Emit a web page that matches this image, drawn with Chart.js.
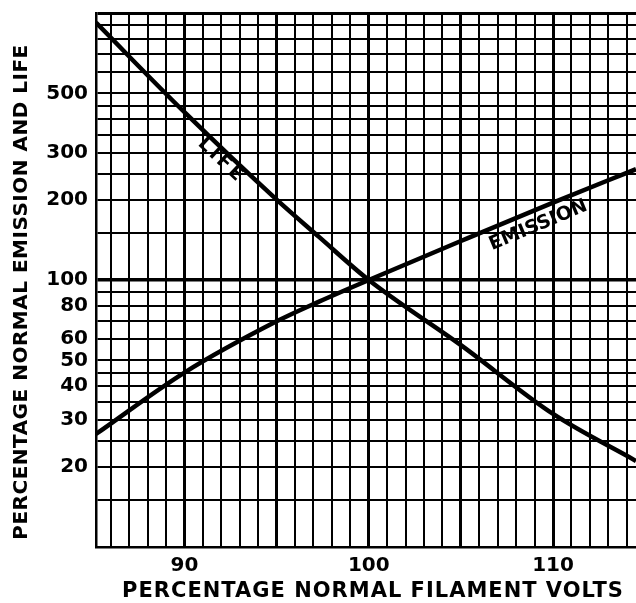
<!DOCTYPE html>
<html>
<head>
<meta charset="utf-8">
<script src="https://cdn.jsdelivr.net/npm/chart.js@4"></script>
<style>
  html, body { margin: 0; padding: 0; background: #fff; }
  #wrap { width: 636px; height: 603px; }
</style>
</head>
<body>
<div id="wrap"><canvas id="tubeChart" width="636" height="603"></canvas></div>
<script>
// filament volts (percent of normal) where the curves were read
const volts = [85.2, 90, 95, 97.3, 100, 105, 110, 114.5];
const lifeValues = [920, 425, 200, 145, 100, 57, 31.5, 21];
const emissionValues = [26.5, 45, 70, 83, 100, 140, 195, 260];

// ruling of the graph paper
const gridVolts = [86, 87, 88, 89, 90, 91, 92, 93, 94, 95, 96, 97, 98, 99, 100,
  101, 102, 103, 104, 105, 106, 107, 108, 109, 110, 111, 112, 113, 114];
const gridLevels = [15, 20, 25, 30, 35, 40, 45, 50, 60, 70, 80, 90, 100,
  150, 200, 250, 300, 350, 400, 450, 500, 600, 700, 800, 900, 1000];
const voltLabels = [90, 100, 110];
const levelLabels = [20, 30, 40, 50, 60, 80, 100, 200, 300, 500];

const FONT = '"DejaVu Sans", sans-serif';

const toPoints = (xs, ys) => xs.map((x, i) => ({ x: x, y: ys[i] }));

// axis titles and the lettering along the curves
const lettering = {
  id: 'lettering',
  afterDraw(chart) {
    const ctx = chart.ctx;
    const xs = chart.scales.x, ys = chart.scales.y;
    ctx.save();
    ctx.fillStyle = '#000';
    ctx.textAlign = 'center';
    ctx.textBaseline = 'middle';

    ctx.font = 'bold 21px ' + FONT;
    ctx.letterSpacing = '1px';
    ctx.fillText('PERCENTAGE NORMAL FILAMENT VOLTS', 373, 592);

    ctx.save();
    ctx.translate(22, 292);
    ctx.rotate(-Math.PI / 2);
    ctx.font = 'bold 20px ' + FONT;
    ctx.letterSpacing = '0.5px';
    ctx.fillText('PERCENTAGE NORMAL EMISSION AND LIFE', 0, 0);
    ctx.restore();

    const slope = (vals, i, j) => Math.atan2(
      ys.getPixelForValue(vals[j]) - ys.getPixelForValue(vals[i]),
      xs.getPixelForValue(volts[j]) - xs.getPixelForValue(volts[i]));

    ctx.save();
    ctx.font = 'bold 19px ' + FONT;
    ctx.letterSpacing = '3px';
    ctx.translate(xs.getPixelForValue(92), ys.getPixelForValue(280));
    ctx.rotate(slope(lifeValues, 1, 2));
    ctx.fillText('LIFE', 0, 0);
    ctx.restore();

    ctx.save();
    ctx.font = 'bold 19px ' + FONT;
    ctx.letterSpacing = '0px';
    ctx.translate(xs.getPixelForValue(109.2), ys.getPixelForValue(160));
    ctx.rotate(slope(emissionValues, 5, 6));
    ctx.fillText('EMISSION', 0, 0);
    ctx.restore();

    ctx.restore();
  }
};

new Chart(document.getElementById('tubeChart'), {
  type: 'scatter',
  data: {
    datasets: [
      { label: 'LIFE', data: toPoints(volts, lifeValues) },
      { label: 'EMISSION', data: toPoints(volts, emissionValues) }
    ]
  },
  options: {
    responsive: false,
    animation: false,
    showLine: true,
    layout: { padding: { top: 13, right: 0, bottom: 0, left: 0 } },
    elements: {
      point: { radius: 0, hoverRadius: 0 },
      line: { borderColor: '#000', borderWidth: 4.5, cubicInterpolationMode: 'monotone', fill: false }
    },
    plugins: {
      legend: { display: false },
      tooltip: { enabled: false }
    },
    scales: {
      x: {
        type: 'linear',
        min: 85.2,
        max: 114.5,
        afterBuildTicks: s => { s.ticks = gridVolts.map(v => ({ value: v })); },
        afterFit: s => { s.height = 56; s.paddingLeft = 0; s.paddingRight = 0; },
        grid: {
          color: '#000',
          drawTicks: false,
          lineWidth: c => (c.tick && c.tick.value % 5 === 0) ? 3 : 2
        },
        border: { display: true, color: '#000', width: 2.5 },
        ticks: {
          autoSkip: false,
          maxRotation: 0,
          padding: 7,
          color: '#000',
          font: { family: FONT, size: 20, weight: 'bold' },
          callback: v => voltLabels.includes(v) ? String(v) : ''
        }
      },
      y: {
        type: 'logarithmic',
        min: 10,
        max: 1000,
        afterBuildTicks: s => { s.ticks = gridLevels.map(v => ({ value: v })); },
        afterFit: s => { s.width = 96; s.paddingTop = 0; s.paddingBottom = 0; },
        grid: {
          color: '#000',
          drawTicks: false,
          lineWidth: c => {
            const v = c.tick ? c.tick.value : 0;
            return v === 100 ? 3.5 : v === 1000 ? 3 : 2;
          }
        },
        border: { display: true, color: '#000', width: 2.5 },
        ticks: {
          autoSkip: false,
          padding: 8,
          color: '#000',
          font: { family: FONT, size: 20, weight: 'bold' },
          callback: v => levelLabels.includes(v) ? String(v) : ''
        }
      }
    }
  },
  plugins: [lettering]
});
</script>
</body>
</html>
